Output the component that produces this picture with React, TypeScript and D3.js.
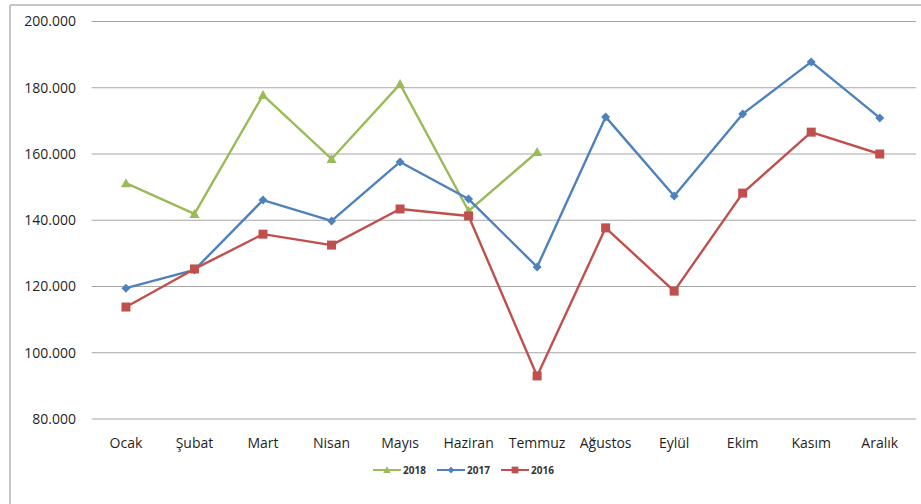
import React from "react";
import * as d3 from "d3";

const months = ["Ocak", "Şubat", "Mart", "Nisan", "Mayıs", "Haziran", "Temmuz", "Ağustos", "Eylül", "Ekim", "Kasım", "Aralık"];
const s2018 = [151.2, 141.9, 177.8, 158.5, 181.1, 142.8, 160.6];
const s2017 = [119.5, 125.0, 146.1, 139.8, 157.6, 146.4, 125.9, 171.2, 147.3, 172.1, 187.8, 170.9];
const s2016 = [113.8, 125.3, 135.8, 132.5, 143.4, 141.3, 93.0, 137.7, 118.6, 148.2, 166.6, 160.0];
const yTicks = [80, 100, 120, 140, 160, 180, 200];

const W = 921, H = 504;
const FONT = "'Open Sans', 'Noto Sans', sans-serif";

export default function App() {
  const x = d3.scaleBand<string>().domain(months).range([91.7, 914]);
  const cx = (i: number) => (x(months[i]) as number) + x.bandwidth() / 2;
  const y = d3.scaleLinear().domain([80, 200]).range([419, 21.5]);
  const line = d3.line<number>().x((_, i) => cx(i)).y((d) => y(d));
  const fmt = (v: number) => v.toFixed(3);

  const series = [
    { name: "2018", data: s2018, color: "#9BBB59", marker: "tri" },
    { name: "2017", data: s2017, color: "#4F81BD", marker: "dia" },
    { name: "2016", data: s2016, color: "#C0504D", marker: "sq" },
  ];

  const marker = (m: string, px: number, py: number, color: string, key: string | number, s = 1) => {
    if (m === "tri") {
      const r = 5 * s;
      return <path key={key} d={`M${px},${py - r}L${px + r},${py + r * 0.8}L${px - r},${py + r * 0.8}Z`} fill={color} />;
    }
    if (m === "dia") {
      const r = 4.5 * s;
      return <path key={key} d={`M${px},${py - r}L${px + r},${py}L${px},${py + r}L${px - r},${py}Z`} fill={color} />;
    }
    const r = 4.5 * s;
    return <rect key={key} x={px - r} y={py - r} width={2 * r} height={2 * r} fill={color} />;
  };

  return (
    <svg width={W} height={H} style={{ position: "absolute", left: 0, top: 0, background: "#fff" }}>
      <rect x={0} y={0} width={W} height={H} fill="#fff" />
      <line x1={10} y1={5} x2={W} y2={5} stroke="#c6c6c6" strokeWidth={2} />
      <line x1={10} y1={5} x2={10} y2={H} stroke="#c6c6c6" strokeWidth={2} />
      {yTicks.map((t) => (
        <g key={t}>
          <line x1={91.7} x2={916} y1={y(t)} y2={y(t)} stroke="#a6a6a6" strokeWidth={1.2} />
          <text x={76} y={y(t)} dy="0.35em" textAnchor="end" fontFamily={FONT} fontSize={14} fill="#1f1f1f">
            {fmt(t)}
          </text>
        </g>
      ))}
      {months.map((m, i) => (
        <text key={m} x={cx(i)} y={448} textAnchor="middle" fontFamily={FONT} fontSize={14} fill="#1f1f1f">
          {m}
        </text>
      ))}
      {series.map((s) => (
        <g key={s.name}>
          <path d={line(s.data) || ""} fill="none" stroke={s.color} strokeWidth={2.4} strokeLinejoin="round" />
          {s.data.map((v, i) => marker(s.marker, cx(i), y(v), s.color, i))}
        </g>
      ))}
      {series.map((s, k) => {
        const lx = 373 + k * 64;
        const ly = 470;
        return (
          <g key={s.name}>
            <line x1={lx} x2={lx + 28} y1={ly} y2={ly} stroke={s.color} strokeWidth={2} />
            {marker(s.marker, lx + 14, ly, s.color, "m", 0.75)}
            <text x={lx + 30} y={ly} dy="0.35em" fontFamily={FONT} fontSize={10} fontWeight="bold" fill="#333">
              {s.name}
            </text>
          </g>
        );
      })}
    </svg>
  );
}
